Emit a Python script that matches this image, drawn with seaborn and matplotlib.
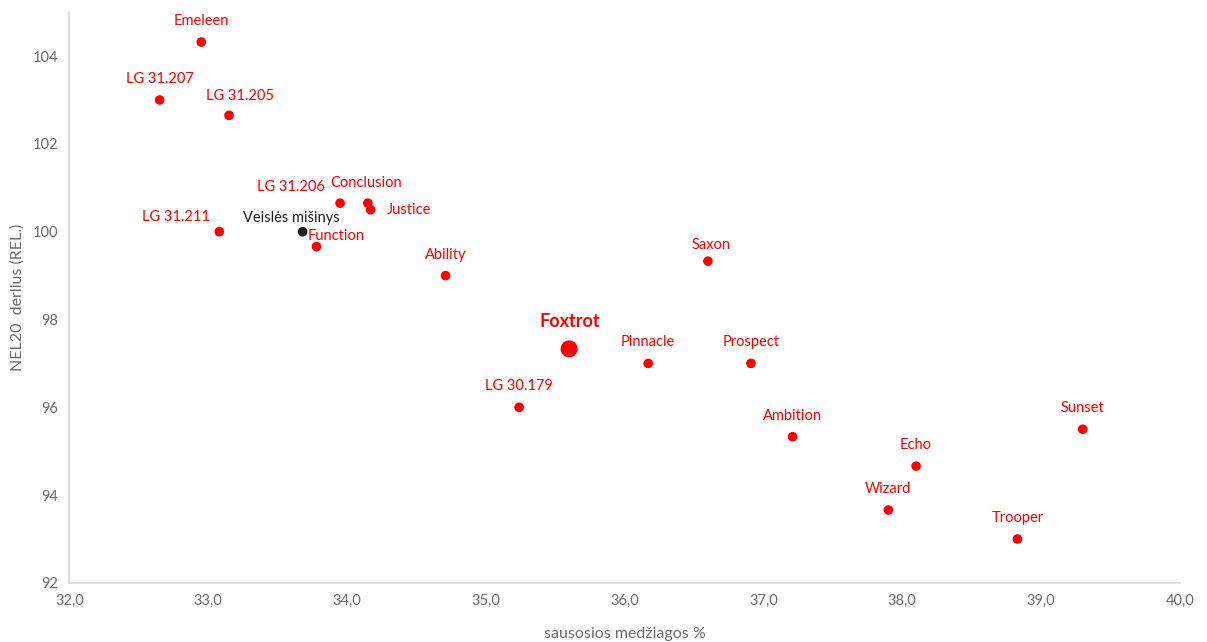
import matplotlib
matplotlib.use("Agg")
import matplotlib.pyplot as plt
import pandas as pd
import seaborn as sns

# Data
names = ["Emeleen", "LG 31.207", "LG 31.205", "LG 31.206", "Conclusion", "Justice",
         "LG 31.211", "Veislės mišinys", "Function", "Ability", "Saxon", "Foxtrot",
         "Pinnacle", "Prospect", "LG 30.179", "Ambition", "Sunset", "Echo",
         "Wizard", "Trooper"]
dry_matter = [32.95, 32.65, 33.15, 33.95, 34.15, 34.17, 33.08, 33.68, 33.78, 34.71,
              36.60, 35.60, 36.17, 36.91, 35.24, 37.21, 39.30, 38.10, 37.90, 38.83]
yield_rel = [104.32, 103.0, 102.65, 100.65, 100.65, 100.5, 100.0, 100.0, 99.66, 99.0,
             99.33, 97.33, 97.0, 97.0, 96.0, 95.33, 95.5, 94.66, 93.66, 93.0]

x_ticks = [32, 33, 34, 35, 36, 37, 38, 39, 40]
y_ticks = [92, 94, 96, 98, 100, 102, 104]

# label offsets in pixels (dx, dy) from the point, default straight above
label_offsets = {
    "LG 31.205": (11, 19),
    "LG 31.206": (-49, 16),
    "Conclusion": (-2, 20),
    "Justice": (38, 0),
    "LG 31.211": (-43, 15),
    "Veislės mišinys": (-11, 14),
    "Function": (20, 11),
    "Saxon": (3, 16),
    "Foxtrot": (1, 27),
}

df = pd.DataFrame({"name": names, "x": dry_matter, "y": yield_rel})
df["group"] = "other"
df.loc[df["name"] == "Foxtrot", "group"] = "main"
df.loc[df["name"] == "Veislės mišinys", "group"] = "mix"

sns.set_style("white")
plt.rcParams["font.family"] = ["Lato", "DejaVu Sans"]

fig = plt.figure(figsize=(12.07, 6.42), dpi=100)
ax = fig.add_axes([0.0575, 0.092, 0.92, 0.889])

palette = {"other": "#FF0000", "main": "#FF0000", "mix": "#1F1F1F"}
sizes = {"other": 48, "main": 150, "mix": 48}
sns.scatterplot(data=df, x="x", y="y", hue="group", size="group", palette=palette,
                sizes=sizes, linewidth=0, legend=False, ax=ax, zorder=3)

for _, row in df.iterrows():
    dx, dy = label_offsets.get(row["name"], (0, 21))
    color = "#1F1F1F" if row["group"] == "mix" else "#FF0000"
    bold = row["group"] == "main"
    ax.annotate(row["name"], (row["x"], row["y"]), xytext=(dx, dy),
                textcoords="offset pixels", ha="center", va="center",
                color=color, fontsize=13 if bold else 10.5,
                fontweight="bold" if bold else "normal")

ax.set_xlim(32, 40)
ax.set_ylim(92, 105)
ax.set_xticks(x_ticks)
ax.set_xticklabels([f"{t:.1f}".replace(".", ",") for t in x_ticks])
ax.set_yticks(y_ticks)
ax.tick_params(colors="#6B6B6B", labelsize=10.5, length=0, pad=8)
ax.set_xlabel("sausosios medžiagos %", color="#6B6B6B", fontsize=11.5, labelpad=14)
ax.set_ylabel("NEL20  derlius (REL.)", color="#6B6B6B", fontsize=11.5, labelpad=6)

for side in ["top", "right"]:
    ax.spines[side].set_visible(False)
for side in ["left", "bottom"]:
    ax.spines[side].set_color("#D9D9D9")
    ax.spines[side].set_linewidth(1.2)

fig.savefig("out.png", dpi=100)
